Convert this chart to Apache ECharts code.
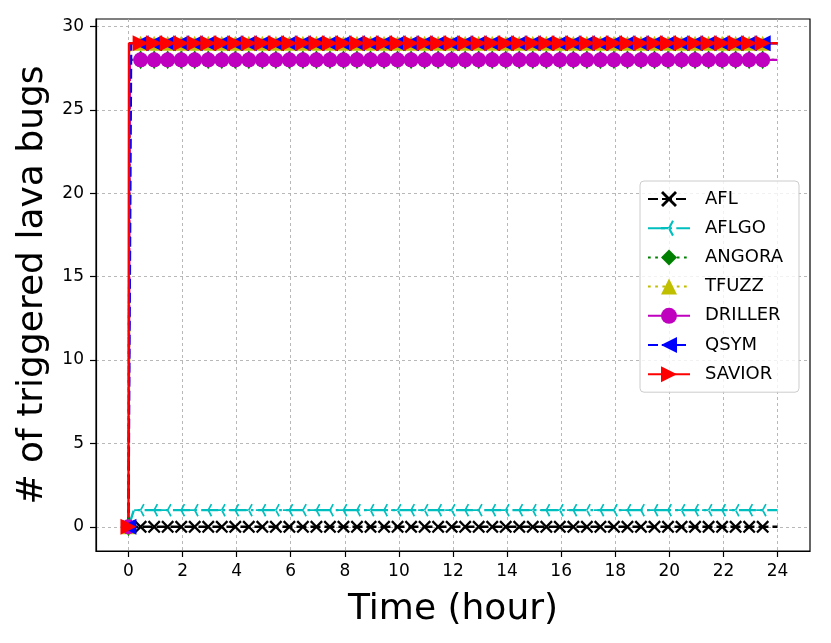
<!DOCTYPE html>
<html>
<head>
<meta charset="utf-8">
<script src="https://cdn.jsdelivr.net/npm/echarts@6/dist/echarts.min.js"></script>
<style>
  html, body { margin: 0; padding: 0; background: #fff; }
  #chart { width: 831px; height: 643px; }
</style>
</head>
<body>
<div id="chart"></div>
<script>
// tools and what each one reached
var toolNames = ['AFL', 'AFLGO', 'ANGORA', 'TFUZZ', 'DRILLER', 'QSYM', 'SAVIOR'];
var bugsAtStart = [0, 0, 0, 0, 0, 0, 0];
var bugsFound = [0, 1, 28, 29, 28, 29, 29];
var jumpHour = [0, 0.2, 0.05, 0.05, 0.05, 0.1, 0.02];
// hours where the markers sit
var markHours = [0.45, 0.95, 1.45, 1.95, 2.45, 2.95, 3.45, 3.95, 4.45, 4.95, 5.45, 5.95,
  6.45, 6.95, 7.45, 7.95, 8.45, 8.95, 9.45, 9.95, 10.45, 10.95, 11.45, 11.95,
  12.45, 12.95, 13.45, 13.95, 14.45, 14.95, 15.45, 15.95, 16.45, 16.95, 17.45, 17.95,
  18.45, 18.95, 19.45, 19.95, 20.45, 20.95, 21.45, 21.95, 22.45, 22.95, 23.45];
var endHour = 24;
var xTicks = [0, 2, 4, 6, 8, 10, 12, 14, 16, 18, 20, 22, 24];
var yTicks = [0, 5, 10, 15, 20, 25, 30];

var colors = ['#000000', '#00bfbf', '#008000', '#bfbf00', '#bf00bf', '#0000ff', '#ff0000'];
var dashes = [[10, 4], [17, 4.3, 2.7, 4.3], [2.7, 4.5], [2.7, 4.5], [17, 4.3, 2.7, 4.3], [10, 4], 'solid'];
var symXMark = 'path://M0,1.5 L1.5,0 L6,4.5 L10.5,0 L12,1.5 L7.5,6 L12,10.5 L10.5,12 L6,7.5 L1.5,12 L0,10.5 L4.5,6 Z';
var symTriLeft = 'path://M0,5.2 L6,5.2 L6,6.8 L0,6.8 Z M5.307,5.6 L8.307,0.404 L9.693,1.204 L6.693,6.4 Z M5.307,6.4 L8.307,11.596 L9.693,10.796 L6.693,5.6 Z M12,6 L12,6.01 L11.99,6 Z';
var symbols = [symXMark, symTriLeft, 'diamond', 'triangle', 'circle',
  'path://M0,6 L12,0 L12,12 Z', 'path://M12,6 L0,0 L0,12 Z'];
var symbolSizes = [13, 13, [12, 19], 15, 15, 16, 16];

var chart = echarts.init(document.getElementById('chart'));

var seriesArr = [];
for (var i = 0; i < toolNames.length; i++) {
  var data = [{ value: [0, bugsAtStart[i]] },
    { value: [jumpHour[i], bugsFound[i]], symbol: 'none' }];
  for (var k = 0; k < markHours.length; k++) {
    data.push({ value: [markHours[k], bugsFound[i]] });
  }
  data.push({ value: [endHour, bugsFound[i]], symbol: 'none' });
  seriesArr.push({
    name: toolNames[i],
    type: 'line',
    data: data,
    symbol: symbols[i],
    symbolSize: symbolSizes[i],
    showAllSymbol: true,
    animation: false,
    lineStyle: { color: colors[i], width: 2.4, type: dashes[i] },
    itemStyle: { color: colors[i], borderWidth: 0 },
    emphasis: { disabled: true }
  });
}

var option = {
  animation: false,
  textStyle: { fontFamily: 'DejaVu Sans' },
  grid: {
    left: 96, right: 21, top: 19, bottom: 92,
    show: true, borderColor: '#000', borderWidth: 1.2,
    outerBoundsMode: 'none'
  },
  legend: {
    orient: 'vertical',
    left: 640, top: 181,
    padding: [9, 16, 9, 7],
    itemWidth: 42, itemHeight: 20, itemGap: 11.2,
    backgroundColor: 'rgba(255,255,255,0.8)',
    borderColor: '#cccccc', borderWidth: 1, borderRadius: 4,
    textStyle: { fontSize: 18, color: '#000', fontFamily: 'DejaVu Sans', padding: [0, 0, 0, 10] },
    data: toolNames
  },
  xAxis: {
    type: 'value',
    min: -1.2, max: 25.2,
    name: 'Time (hour)',
    nameLocation: 'middle',
    nameGap: 41,
    nameTextStyle: { fontSize: 36, color: '#000', fontFamily: 'DejaVu Sans' },
    axisLine: { show: true, onZero: false, lineStyle: { color: '#000', width: 1.2 } },
    axisTick: { show: true, inside: false, length: 6, customValues: xTicks, lineStyle: { color: '#000', width: 1.2 } },
    axisLabel: { customValues: xTicks, fontSize: 17, color: '#000', margin: 12 },
    splitLine: { show: true, lineStyle: { color: '#b0b0b0', width: 0.9, type: [3, 3] } }
  },
  yAxis: {
    type: 'value',
    min: -1.45, max: 30.45,
    name: '# of triggered lava bugs',
    nameLocation: 'middle',
    nameGap: 45,
    nameTextStyle: { fontSize: 36, color: '#000', fontFamily: 'DejaVu Sans' },
    axisLine: { show: true, onZero: false, lineStyle: { color: '#000', width: 1.2 } },
    axisTick: { show: true, inside: false, length: 6, customValues: yTicks, lineStyle: { color: '#000', width: 1.2 } },
    axisLabel: { customValues: yTicks, fontSize: 17, color: '#000', margin: 12 },
    splitLine: { show: true, lineStyle: { color: '#b0b0b0', width: 0.9, type: [3, 3] } }
  },
  series: seriesArr
};
chart.setOption(option);

window.onresize = function () {
  chart.resize();
};
</script>
</body>
</html>
